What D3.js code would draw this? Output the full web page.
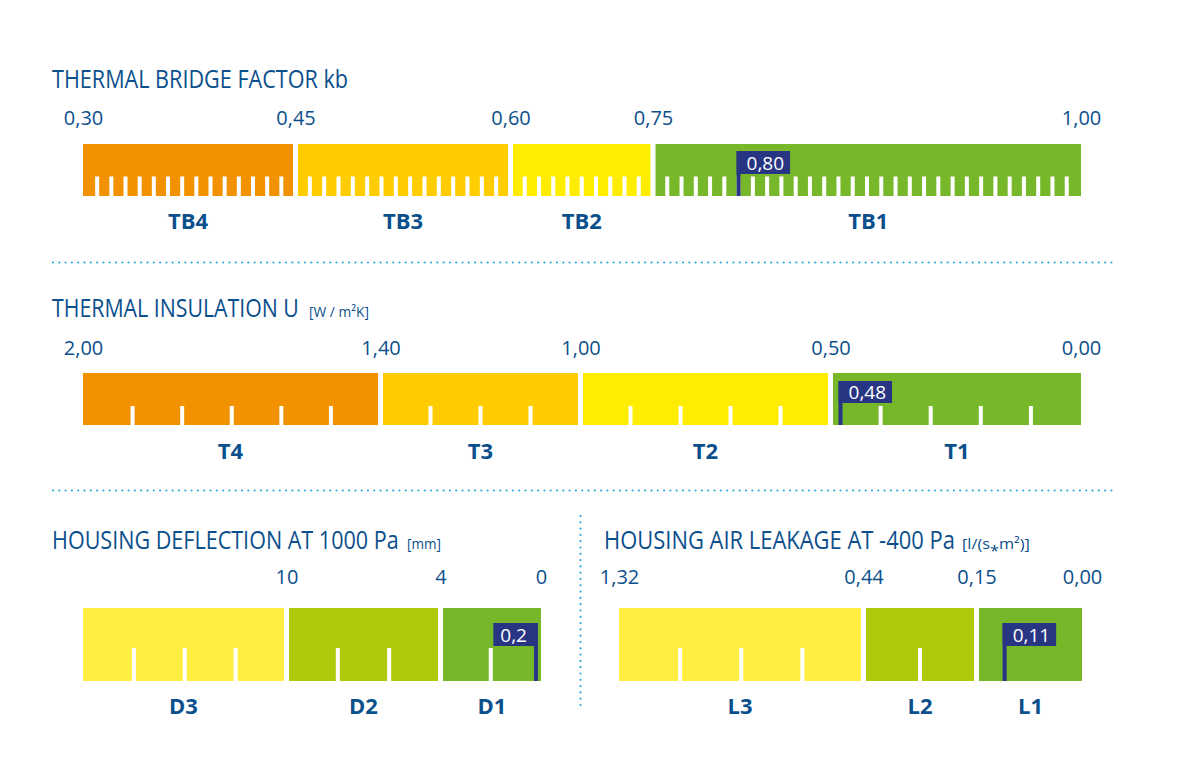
<!DOCTYPE html>
<html>
<head>
<meta charset="utf-8">
<script src="https://cdn.jsdelivr.net/npm/d3@7"></script>
<style>
  body { margin: 0; background: #fff; }
  svg { display: block; font-family: "Open Sans", "Noto Sans", sans-serif; }
</style>
</head>
<body>
<script>
// ---- data ----
// thermal bridge factor kb
var tbBounds = [0.30, 0.45, 0.60, 0.75, 1.00],
    tbLabels = ["0,30", "0,45", "0,60", "0,75", "1,00"],
    tbClasses = ["TB4", "TB3", "TB2", "TB1"],
    tbDivisions = [15, 15, 10, 30],
    tbValue = 0.80, tbValueLabel = "0,80";

// thermal insulation U
var tBounds = [2.00, 1.40, 1.00, 0.50, 0.00],
    tLabels = ["2,00", "1,40", "1,00", "0,50", "0,00"],
    tClasses = ["T4", "T3", "T2", "T1"],
    tDivisions = [6, 4, 5, 5],
    tValue = 0.48, tValueLabel = "0,48";

// housing deflection at 1000 Pa
var dBounds = [18, 10, 4, 0],
    dLabels = ["", "10", "4", "0"],
    dClasses = ["D3", "D2", "D1"],
    dDivisions = [4, 3, 2],
    dValue = 0.2, dValueLabel = "0,2";

// housing air leakage at -400 Pa
var lBounds = [1.32, 0.44, 0.15, 0.00],
    lLabels = ["1,32", "0,44", "0,15", "0,00"],
    lClasses = ["L3", "L2", "L1"],
    lDivisions = [4, 2, 1],
    lValue = 0.11, lValueLabel = "0,11";

// ---- style ----
var textBlue = "#0b4f8c",
    navy = "#283583",
    dotBlue = "#2fa6dd",
    orange = "#f39200", amber = "#ffcc00", yellow = "#ffed00",
    green = "#76b82a", paleYellow = "#ffee40", yellowGreen = "#afca0a",
    gap = 5;

var svg = d3.select("body").append("svg")
    .attr("width", 1200)
    .attr("height", 779);

var panels = [
  {title: "THERMAL BRIDGE FACTOR kb", titleX: 52, titleY: 88, titleW: 296,
   bounds: tbBounds, labels: tbLabels, classes: tbClasses, divisions: tbDivisions,
   value: tbValue, valueLabel: tbValueLabel,
   colors: [orange, amber, yellow, green],
   stops: [83, 295.5, 510.5, 653, 1081],
   labelY: 125, barY: 144, barH: 52, tickH: 19.5, boxY: 151, boxH: 23, classY: 229},
  {title: "THERMAL INSULATION U", titleX: 52, titleY: 317, titleW: 247,
   unit: "[W / m²K]", unitX: 309, unitW: 60,
   bounds: tBounds, labels: tLabels, classes: tClasses, divisions: tDivisions,
   value: tValue, valueLabel: tValueLabel,
   colors: [orange, amber, yellow, green],
   stops: [83, 380.5, 580.5, 830.5, 1081],
   labelY: 355, barY: 373, barH: 52, tickH: 19, boxY: 381, boxH: 22, classY: 459},
  {title: "HOUSING DEFLECTION AT 1000 Pa", titleX: 52, titleY: 549, titleW: 347,
   unit: "[mm]", unitX: 407, unitW: 34,
   bounds: dBounds, labels: dLabels, classes: dClasses, divisions: dDivisions,
   value: dValue, valueLabel: dValueLabel,
   colors: [paleYellow, yellowGreen, green],
   stops: [83, 286.5, 440.5, 541],
   labelY: 584, barY: 608, barH: 73, tickH: 33, boxY: 623, boxH: 23, classY: 714},
  {title: "HOUSING AIR LEAKAGE AT -400 Pa", titleX: 604, titleY: 549, titleW: 351,
   unit: "[l/(s\u204Em²)]", unitX: 962, unitW: 68,
   bounds: lBounds, labels: lLabels, classes: lClasses, divisions: lDivisions,
   value: lValue, valueLabel: lValueLabel,
   colors: [paleYellow, yellowGreen, green],
   stops: [619, 863.5, 976.5, 1082],
   labelY: 584, barY: 608, barH: 73, tickH: 33, boxY: 623, boxH: 23, classY: 714}
];

// dotted separators
function dotted(x1, y1, x2, y2) {
  svg.append("line")
      .attr("x1", x1).attr("y1", y1).attr("x2", x2).attr("y2", y2)
      .attr("stroke", dotBlue)
      .attr("stroke-width", 2.2)
      .attr("stroke-linecap", "round")
      .attr("stroke-dasharray", "0 6.3");
}
dotted(53, 262.5, 1112, 262.5);
dotted(53, 490.5, 1112, 490.5);
dotted(580.5, 516, 580.5, 706);

// text squeezed horizontally to a target width (condensed look)
function fitText(g, str, x, y, size, w) {
  var t = g.append("text")
      .attr("fill", textBlue)
      .attr("font-size", size)
      .text(str);
  var nat = t.node().getComputedTextLength();
  t.attr("transform", "translate(" + x + "," + y + ") scale(" + (w / nat) + ",1)");
  return t;
}

panels.forEach(drawPanel);

function drawPanel(p) {
  var x = d3.scaleLinear().domain(p.bounds).range(p.stops);
  var g = svg.append("g");
  var last = p.classes.length - 1,
      barEnd = x(p.bounds[p.bounds.length - 1]);

  // title + unit
  fitText(g, p.title, p.titleX, p.titleY, 25, p.titleW);
  if (p.unit) fitText(g, p.unit, p.unitX, p.titleY, 15, p.unitW);

  // class segments
  var segs = p.classes.map(function(c, i) {
    return {cls: c, a: p.bounds[i], b: p.bounds[i + 1], div: p.divisions[i],
            color: p.colors[i],
            x0: x(p.bounds[i]) + (i > 0 ? gap / 2 : 0),
            x1: x(p.bounds[i + 1]) - (i < last ? gap / 2 : 0)};
  });

  g.selectAll("rect.seg")
      .data(segs)
      .enter().append("rect")
      .attr("class", "seg")
      .attr("x", function(d) { return d.x0; })
      .attr("y", p.barY)
      .attr("width", function(d) { return d.x1 - d.x0; })
      .attr("height", p.barH)
      .attr("fill", function(d) { return d.color; });

  // white scale ticks inside each segment
  var ticks = [];
  segs.forEach(function(s) {
    d3.range(1, s.div).forEach(function(k) {
      ticks.push(s.a + (s.b - s.a) * k / s.div);
    });
  });
  g.selectAll("rect.tick")
      .data(ticks)
      .enter().append("rect")
      .attr("class", "tick")
      .attr("x", function(v) { return x(v) - 2; })
      .attr("y", p.barY + p.barH - p.tickH)
      .attr("width", 4)
      .attr("height", p.tickH)
      .attr("fill", "#fff");

  // boundary labels via axis
  var axis = d3.axisTop(x)
      .tickValues(p.bounds)
      .tickFormat(function(d, i) { return p.labels[i]; })
      .tickSize(0)
      .tickPadding(0);
  var ag = g.append("g")
      .attr("transform", "translate(0," + p.labelY + ")")
      .call(axis);
  ag.select(".domain").remove();
  ag.attr("font-family", null).attr("font-size", 20);
  ag.selectAll("text").attr("fill", textBlue).attr("dy", 0);

  // class labels
  g.selectAll("text.cls")
      .data(segs)
      .enter().append("text")
      .attr("class", "cls")
      .attr("x", function(d) { return (d.x0 + d.x1) / 2; })
      .attr("y", p.classY)
      .attr("text-anchor", "middle")
      .attr("font-size", 22)
      .attr("font-weight", "bold")
      .attr("fill", textBlue)
      .text(function(d) { return d.cls; });

  // value marker
  var mx = x(p.value);
  var vt = g.append("text")
      .attr("font-size", 19)
      .attr("fill", "#fff")
      .attr("y", p.boxY + p.boxH / 2 + 7)
      .text(p.valueLabel);
  var tw = vt.node().getComputedTextLength();
  var onRight = mx + 2 + tw + 13 <= barEnd;
  var boxX, boxW, textX;
  if (onRight) {
    boxX = mx - 2; boxW = tw + 16; textX = mx + 8;
  } else {
    boxW = tw + 14; boxX = mx - 2 - boxW; textX = boxX + 7;
  }
  g.insert("rect", function() { return vt.node(); })
      .attr("x", boxX).attr("y", p.boxY)
      .attr("width", boxW).attr("height", p.boxH)
      .attr("fill", navy);
  g.insert("rect", function() { return vt.node(); })
      .attr("x", mx - 2).attr("y", p.boxY)
      .attr("width", 4).attr("height", p.barY + p.barH - p.boxY)
      .attr("fill", navy);
  vt.attr("x", textX);
}
</script>
</body>
</html>
